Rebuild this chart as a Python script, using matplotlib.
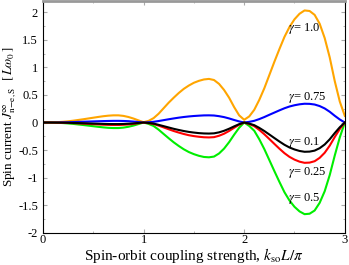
import matplotlib.pyplot as plt
import numpy as np
from matplotlib.ticker import MultipleLocator

plt.rcParams['font.family'] = ['Liberation Serif', 'DejaVu Serif']
plt.rcParams['mathtext.fontset'] = 'stix'

# values at k_so L / pi = 0, 0.05, ..., 3
kso = np.round(np.arange(0, 3.001, 0.05), 2)
gamma_10 = [0, 0.001, 0.003, 0.007, 0.013, 0.022, 0.033, 0.046, 0.059, 0.073, 0.087,
            0.101, 0.114, 0.124, 0.13, 0.13, 0.12, 0.1, 0.072, 0.038, 0.005,
            0.03, 0.08, 0.16, 0.26, 0.36, 0.45, 0.535, 0.61, 0.67, 0.72, 0.755, 0.78, 0.79, 0.77, 0.7, 0.59, 0.45, 0.28, 0.13, 0.05,
            0.11, 0.23, 0.41, 0.62, 0.86, 1.1, 1.33, 1.55, 1.73, 1.87, 1.97, 2.03, 2.02, 1.95, 1.79, 1.53, 1.18, 0.75, 0.38, 0.12]
gamma_075 = [0, 0.0, 0.001, 0.002, 0.003, 0.005, 0.008, 0.011, 0.014, 0.017, 0.02,
             0.023, 0.026, 0.028, 0.03, 0.03, 0.028, 0.024, 0.017, 0.008, 0,
             0.005, 0.013, 0.027, 0.043, 0.059, 0.074, 0.088, 0.1, 0.11, 0.118, 0.124, 0.129, 0.13, 0.127, 0.115, 0.098, 0.074, 0.046, 0.02, 0,
             0.012, 0.031, 0.062, 0.099, 0.14, 0.18, 0.22, 0.258, 0.29, 0.313, 0.33, 0.34, 0.338, 0.326, 0.298, 0.255, 0.195, 0.122, 0.055, 0]
gamma_01 = [0, -0.0, -0.001, -0.002, -0.003, -0.005, -0.008, -0.01, -0.013, -0.016, -0.019,
            -0.022, -0.025, -0.027, -0.028, -0.028, -0.026, -0.022, -0.016, -0.008, 0,
            -0.008, -0.02, -0.042, -0.066, -0.09, -0.114, -0.135, -0.154, -0.17, -0.182, -0.192, -0.198, -0.2, -0.196, -0.178, -0.15, -0.113, -0.07, -0.03, 0,
            -0.02, -0.048, -0.097, -0.154, -0.217, -0.281, -0.344, -0.403, -0.452, -0.488, -0.515, -0.53, -0.527, -0.509, -0.465, -0.398, -0.304, -0.191, -0.086, 0]
gamma_025 = [0, -0.0, -0.001, -0.003, -0.005, -0.008, -0.011, -0.015, -0.02, -0.025, -0.03,
             -0.035, -0.04, -0.043, -0.045, -0.045, -0.041, -0.035, -0.025, -0.012, 0,
             -0.011, -0.027, -0.056, -0.089, -0.122, -0.154, -0.182, -0.208, -0.23, -0.246, -0.258, -0.267, -0.27, -0.265, -0.24, -0.203, -0.153, -0.095, -0.04, 0,
             -0.027, -0.066, -0.134, -0.212, -0.299, -0.387, -0.474, -0.555, -0.622, -0.672, -0.709, -0.73, -0.726, -0.701, -0.64, -0.548, -0.419, -0.263, -0.118, 0]
gamma_05 = [0, -0.001, -0.002, -0.005, -0.01, -0.017, -0.025, -0.035, -0.045, -0.056, -0.067,
            -0.078, -0.088, -0.096, -0.1, -0.1, -0.092, -0.077, -0.055, -0.028, 0,
            -0.025, -0.063, -0.13, -0.208, -0.285, -0.359, -0.425, -0.485, -0.535, -0.573, -0.603, -0.624, -0.63, -0.617, -0.561, -0.473, -0.356, -0.221, -0.095, 0,
            -0.062, -0.149, -0.303, -0.481, -0.68, -0.88, -1.075, -1.262, -1.412, -1.527, -1.61, -1.66, -1.652, -1.594, -1.455, -1.245, -0.952, -0.598, -0.27, 0]

curves = [
    (gamma_10, '#FFA500', r'$\gamma$= 1.0', 1.70),
    (gamma_075, '#0000FF', r'$\gamma$= 0.75', 0.45),
    (gamma_05, '#00EE00', r'$\gamma$= 0.5', -1.37),
    (gamma_025, '#FF0000', r'$\gamma$= 0.25', -0.91),
    (gamma_01, '#000000', r'$\gamma$= 0.1', -0.36),
]

fig = plt.figure(figsize=(3.49, 2.65), dpi=100)
ax = fig.add_axes([0.123, 0.121, 0.865, 0.875])

for vals, col, lab, ylab in curves:
    ax.plot(kso, vals, color=col, lw=1.5)
    ax.text(2.44, ylab, lab, fontsize=9, ha='left', va='center')

ax.set_xlim(0, 3)
ax.set_ylim(-2, 2.2)
ax.xaxis.set_major_locator(MultipleLocator(1))
ax.xaxis.set_minor_locator(MultipleLocator(0.5))
ax.yaxis.set_minor_locator(MultipleLocator(0.25))
ax.tick_params(which='both', direction='in', top=True, right=True,
               color='#aaaaaa', labelsize=9)
ax.tick_params(which='major', length=3)
ax.tick_params(which='minor', length=1.5)
ax.tick_params(axis='x', pad=1)
ax.set_yticks([-2, -1.5, -1, -0.5, 0, 0.5, 1, 1.5, 2])
ax.set_yticklabels(['-2', '-1.5', '-1', '-0.5', '0', '0.5', '1', '1.5', '2'])
ax.spines['top'].set_color('#999999')
ax.spines['top'].set_linewidth(2)

ax.set_xlabel(r'Spin-orbit coupling strength, $k_{\rm so}L/\pi$', fontsize=11, labelpad=0)
ax.set_ylabel(r'Spin current $\bar{J}^{\infty}_{\rm n\!-\!e,S}$  $[\,L\omega_0\,]$',
              fontsize=9.5)
ax.yaxis.set_label_coords(-0.078, 0.5)

fig.savefig('out.png', dpi=100)
